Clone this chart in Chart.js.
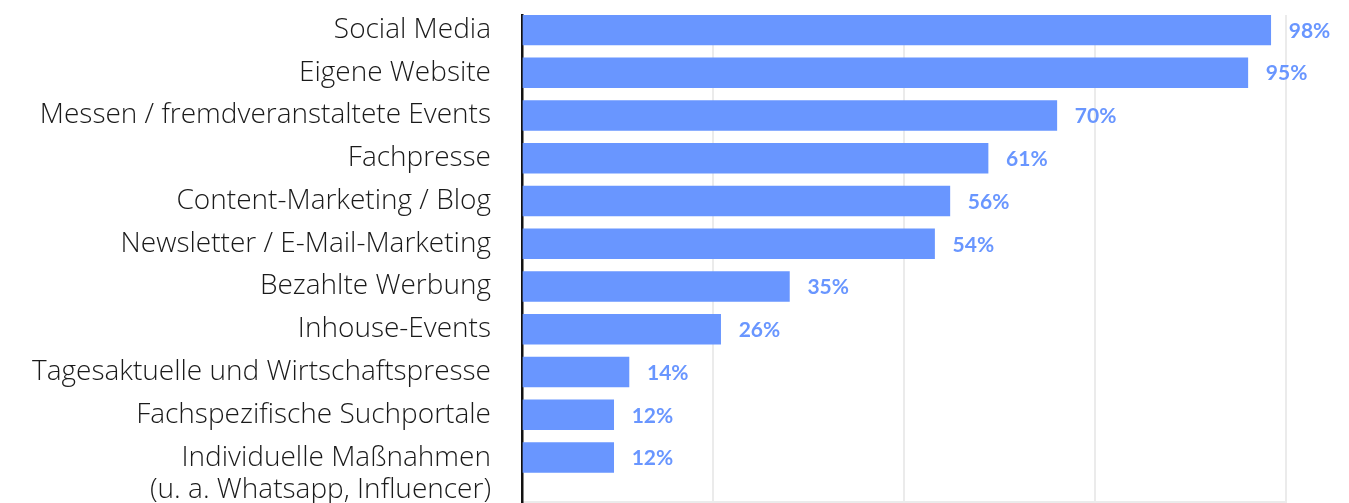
<!DOCTYPE html>
<html>
<head>
<meta charset="utf-8">
<script src="https://cdn.jsdelivr.net/npm/chart.js@4/dist/chart.umd.min.js"></script>
<style>
  html, body { margin: 0; padding: 0; background: #fff; }
  #wrap { width: 1349px; height: 503px; }
</style>
</head>
<body>
<div id="wrap"><canvas id="channels"></canvas></div>
<script>
let categories = [
    "Social Media",
    "Eigene Website",
    "Messen / fremdveranstaltete Events",
    "Fachpresse",
    "Content-Marketing / Blog",
    "Newsletter / E-Mail-Marketing",
    "Bezahlte Werbung",
    "Inhouse-Events",
    "Tagesaktuelle und Wirtschaftspresse",
    "Fachspezifische Suchportale",
    ["Individuelle Maßnahmen", "(u. a. Whatsapp, Influencer)"]
];
let shares = [98, 95, 70, 61, 56, 54, 35, 26, 14, 12, 12];
let xTicks = [0, 25, 50, 75, 100];

let barBlue = "#6996ff";

// value labels at the end of each bar
let valueLabels = {
    id: "valueLabels",
    afterDatasetsDraw(chart) {
        let ctx = chart.ctx;
        let meta = chart.getDatasetMeta(0);
        ctx.save();
        ctx.font = "bold 21px Lato";
        ctx.fillStyle = barBlue;
        ctx.textBaseline = "middle";
        ctx.textAlign = "left";
        meta.data.forEach((bar, i) => {
            ctx.fillText(shares[i] + "%", bar.x + 18, bar.y + 1);
        });
        ctx.restore();
    }
};

let channelData = {
    datasets: [{
        data: shares.map((v, i) => ({ x: v, y: i })),
        backgroundColor: barBlue,
        barThickness: 30,
    }]
};

let channelOptions = {
    indexAxis: "y",
    responsive: true,
    maintainAspectRatio: false,
    animation: false,
    layout: {
        padding: { left: 0, right: 63, top: 15, bottom: 1 }
    },
    scales: {
        x: {
            min: 0,
            max: 100,
            afterBuildTicks: s => { s.ticks = xTicks.map(v => ({ value: v })); },
            ticks: { display: false },
            grid: { color: "#ebebeb", lineWidth: 2, drawTicks: false },
            border: { color: "#ebebeb", width: 2 }
        },
        y: {
            type: "linear",
            reverse: true,
            offset: false,
            min: -0.35,
            max: 11.04,
            ticks: {
                stepSize: 1,
                includeBounds: false,
                autoSkip: false,
                padding: 31,
                color: "#1a1a1a",
                font: { family: "Open Sans", size: 28, weight: "300", lineHeight: 1.15 },
                callback: v => {
                    let label = categories[v];
                    if (label === undefined) return "";
                    // keep the first line of a two-line label level with its bar
                    return Array.isArray(label) ? [""].concat(label) : label;
                }
            },
            grid: { display: false, drawTicks: false },
            border: { color: "#111", width: 2.5 },
            afterFit: s => {
                s.width = 522;
                s.paddingTop = 0;
                s.paddingBottom = 0;
            }
        }
    },
    plugins: {
        legend: { display: false },
        tooltip: { enabled: false }
    }
};

let channelChart = new Chart(document.getElementById("channels"), {
    type: "bar",
    data: channelData,
    options: channelOptions,
    plugins: [valueLabels]
});
</script>
</body>
</html>
